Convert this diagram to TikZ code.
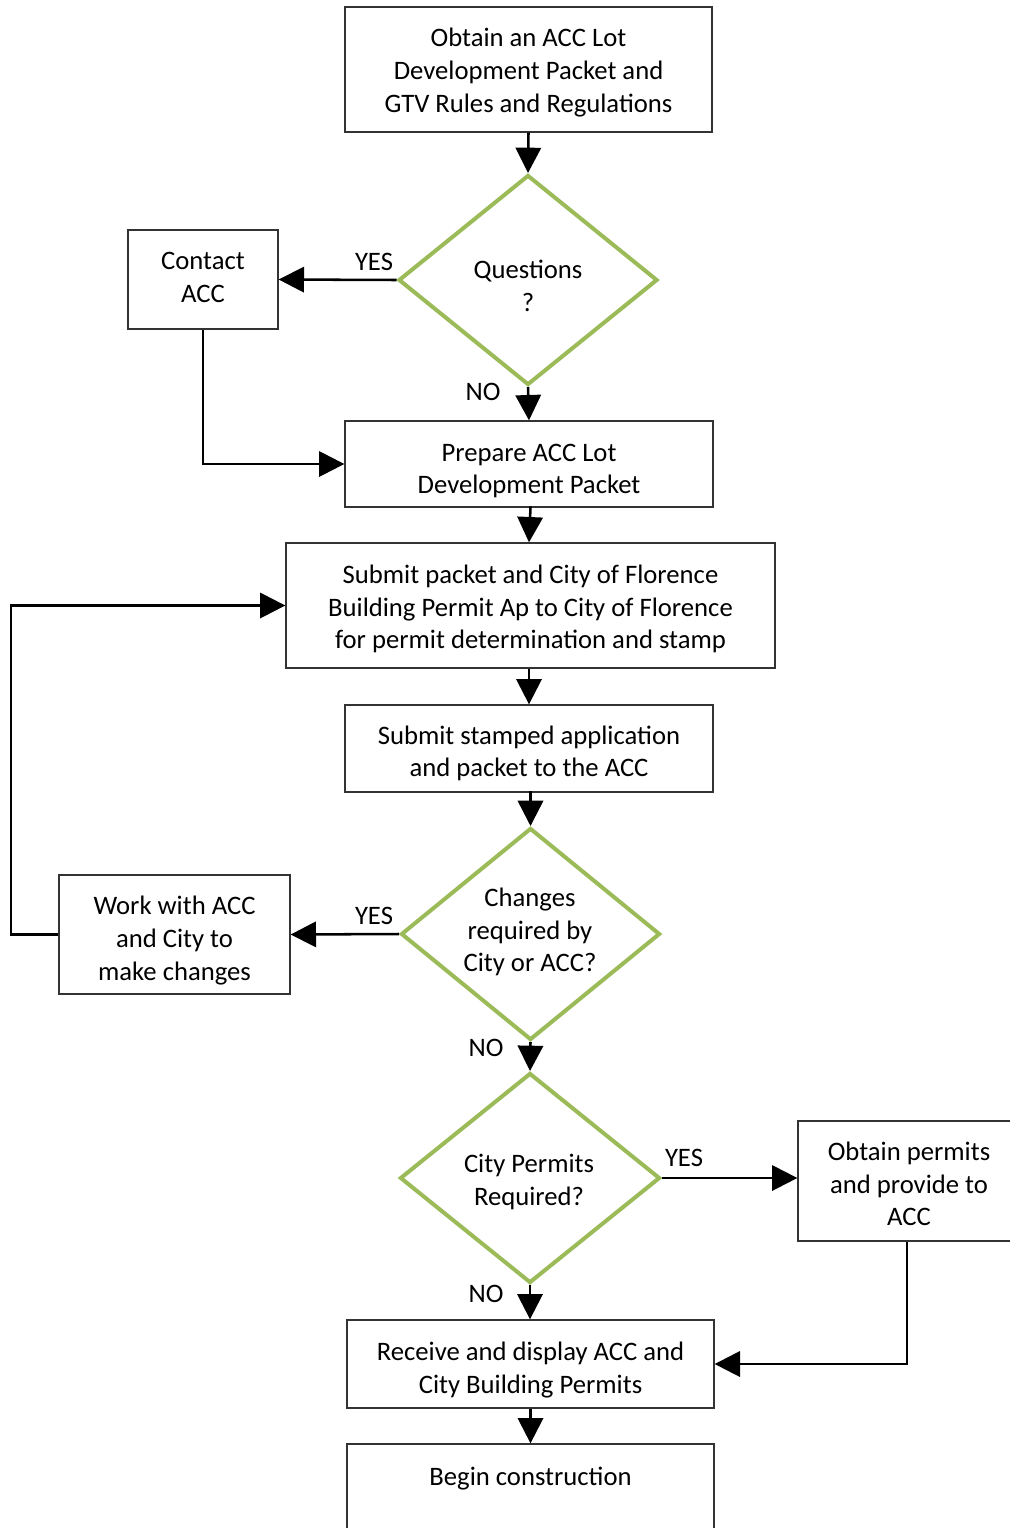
\documentclass[tikz,border=0pt]{standalone}
\usepackage{fontspec}
\setmainfont{Carlito}
\usetikzlibrary{arrows.meta,shapes.geometric}
\begin{document}
\begin{tikzpicture}[x=0.75pt,y=-0.75pt,
  every node/.style={font=\fontsize{20}{24.4}\selectfont},
  box/.style={draw=black!80,line width=1pt,rectangle,align=center,inner sep=0pt},
  dec/.style={draw={rgb,255:red,155;green,187;blue,89},line width=3pt,diamond,inner sep=0pt,minimum width=194.25pt,minimum height=157.5pt},
  dtext/.style={align=center,inner sep=0pt},
  lbl/.style={inner sep=0pt},
  conn/.style={line width=1.9pt,-{Triangle[length=19pt,width=19pt]}}]
\useasboundingbox (0,0) rectangle (1010,1528);
\clip (0,0) rectangle (1010,1528);

\node[box,minimum width=275.25pt,minimum height=93.75pt] (b1) at (528.5,69.5) {};
\node[dtext] (tb1) at (528.5,72.5) {Obtain an ACC Lot\\Development Packet and\\GTV Rules and Regulations};
\node[dec] (d1) at (528,280) {};
\node[dtext] (t1) at (528,286) {Questions\\?};
\node[box,minimum width=112.5pt,minimum height=74.25pt] (contact) at (203,279.5) {};
\node[dtext] (tcontact) at (203,277.5) {Contact\\ACC};
\node[box,minimum width=276pt,minimum height=64.5pt] (prep) at (529,464) {};
\node[dtext] (tprep) at (529,471) {Prepare ACC Lot\\Development Packet};
\node[box,minimum width=366.75pt,minimum height=93.75pt] (submit) at (530.5,605.5) {};
\node[dtext] (tsubmit) at (530.5,609) {Submit packet and City of Florence\\Building Permit Ap to City of Florence\\for permit determination and stamp};
\node[box,minimum width=276pt,minimum height=65.25pt] (stamped) at (529,748.5) {};
\node[dtext] (tstamped) at (529,753.5) {Submit stamped application\\and packet to the ACC};
\node[dec,minimum height=159pt] (d2) at (530.5,934) {};
\node[dtext] (t2) at (530,932) {Changes\\required by\\City or ACC?};
\node[box,minimum width=173.25pt,minimum height=89.25pt] (work) at (174.5,934.5) {};
\node[dtext] (twork) at (174.5,940.5) {Work with ACC\\and City to\\make changes};
\node[dec,minimum width=195pt] (d3) at (530,1178) {};
\node[dtext] (t3) at (529,1182) {City Permits\\Required?};
\node[box,minimum width=166.5pt,minimum height=90pt] (obtain) at (909,1181) {};
\node[dtext] (tobtain) at (909,1184) {Obtain permits\\and provide to\\ACC};
\node[box,minimum width=275.25pt,minimum height=66pt] (receive) at (530.5,1364) {};
\node[dtext] (treceive) at (530.5,1370) {Receive and display ACC and\\City Building Permits};
\node[box,minimum width=275.25pt,minimum height=90pt] (begin) at (530.5,1504) {};
\node[dtext] (tbegin) at (530.5,1479) {Begin construction};

\node[lbl] (yes1) at (374,262) {YES};
\node[lbl] (no1) at (483,392) {NO};
\node[lbl] (yes2) at (374,916) {YES};
\node[lbl] (no2) at (486,1048) {NO};
\node[lbl] (yes3) at (684,1158) {YES};
\node[lbl] (no3) at (486,1294) {NO};

\draw[conn] (b1.south) -- (d1.north);
\draw[conn] (d1.west) -- (contact.east);
\draw[conn] (d1.south) -- (prep.north);
\draw[conn] (contact.south) |- (prep.west);
\draw[conn] (prep.south) -- (submit.south |- prep.south) -- (submit.north -| prep.south);
\draw[conn] (submit.south -| stamped.north) -- (stamped.north);
\draw[conn] (stamped.south) -- (stamped.south -| d2.north) -- (d2.north);
\draw[conn] (d2.west) -- (work.east);
\coordinate (loopc) at (11,934.5);
\draw[conn] (work.west) -- (loopc) |- (submit.west);
\draw[conn] (d2.south) -- (d3.north);
\draw[conn] (d3.east) -- (obtain.west |- d3.east);
\draw[conn] (obtain.south -| 907,0) |- (receive.east);
\draw[conn] (d3.south) -- (receive.north -| d3.south);
\draw[conn] (receive.south) -- (begin.north);
\end{tikzpicture}
\end{document}
